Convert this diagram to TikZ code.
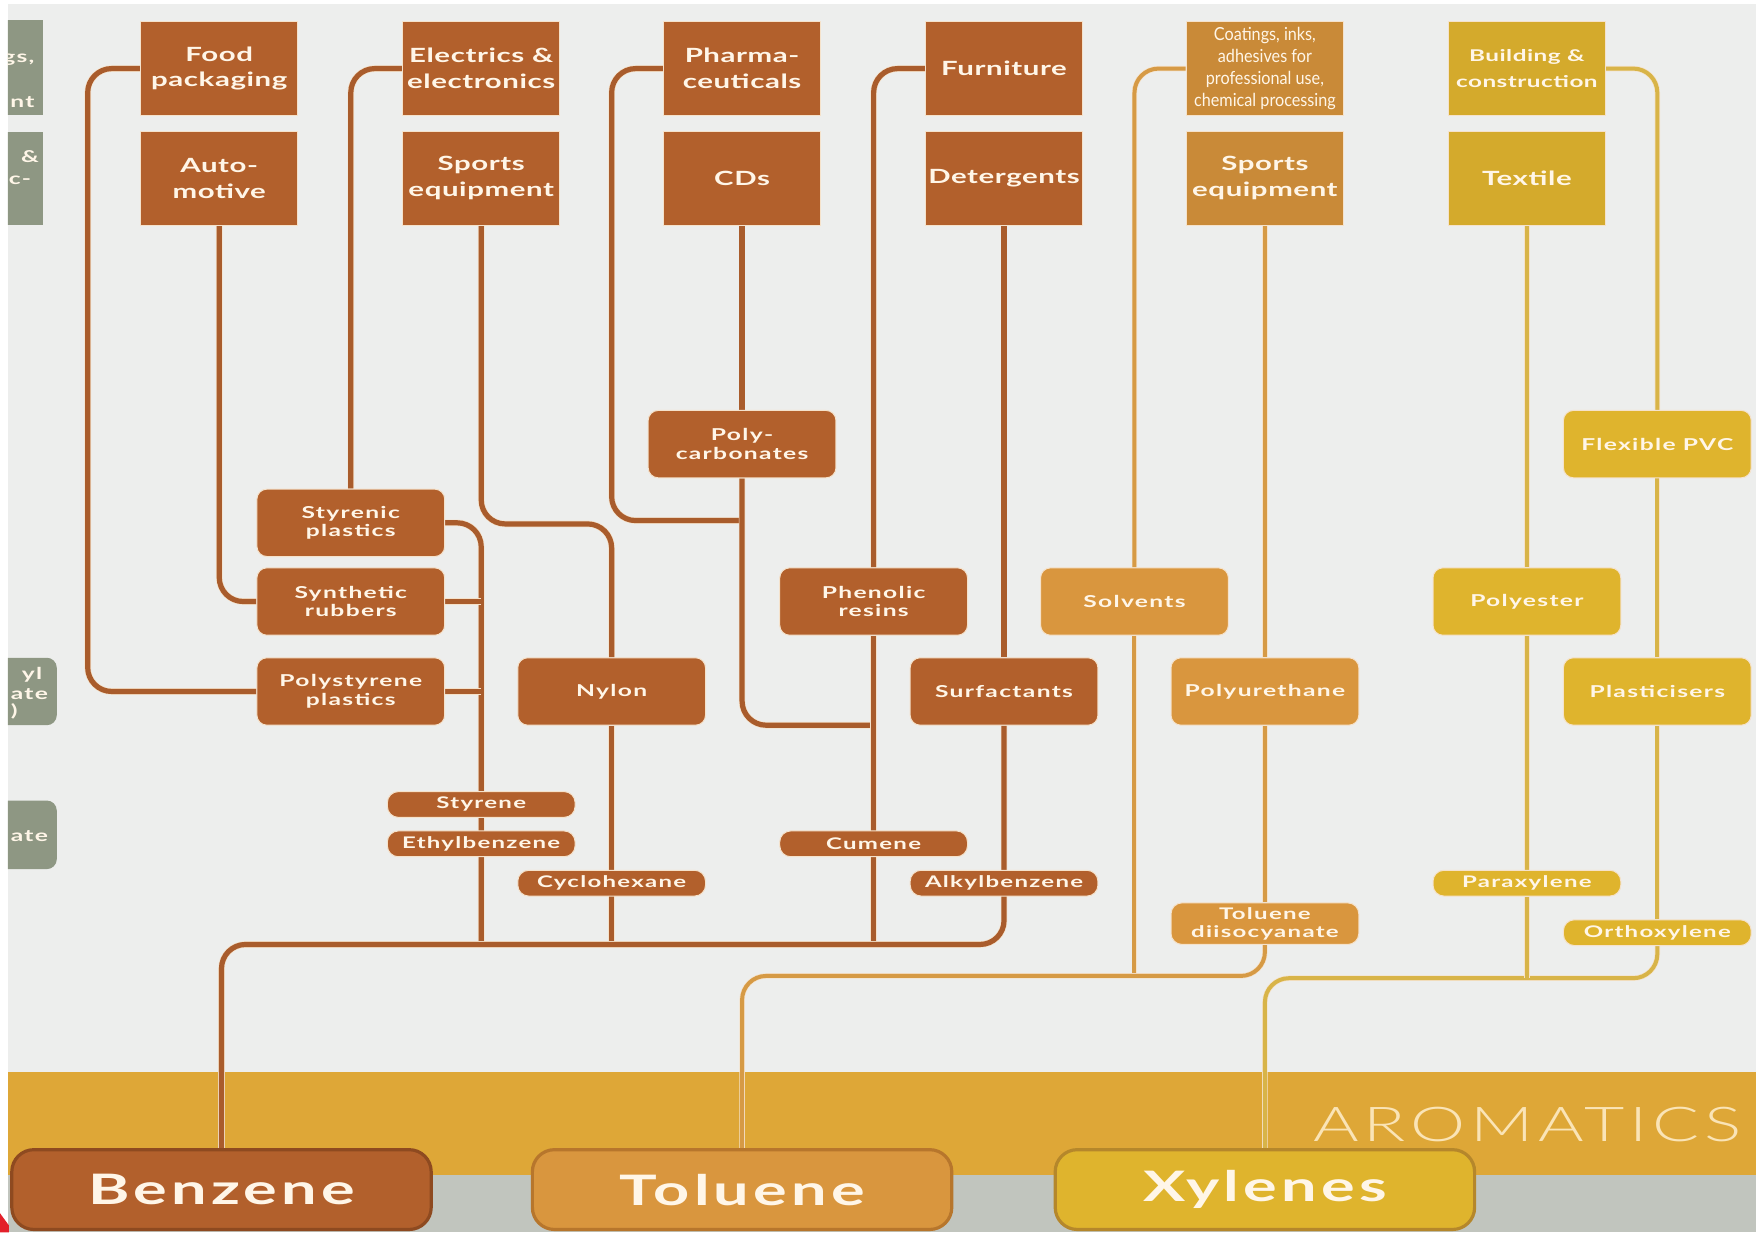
\documentclass[tikz,border=0pt]{standalone}
\usepackage{fontspec}
\setmainfont{Lato}
\newfontfamily\topfont[FakeStretch=1.5,LetterSpace=3]{Lato}
\newfontfamily\midfont[FakeStretch=1.5,LetterSpace=8]{Lato}
\newfontfamily\bigfont[FakeStretch=1.5,LetterSpace=10]{Lato}
\newfontfamily\aromfont[FakeStretch=1.45,LetterSpace=10]{Lato Light}
\newfontfamily\condfont[FakeStretch=0.9]{Lato}
\usetikzlibrary{backgrounds}
\definecolor{pagec}{HTML}{EDEEED}
\definecolor{bandc}{HTML}{DEA737}
\definecolor{stripc}{HTML}{C1C5BE}
\definecolor{bzc}{HTML}{B2602C}
\definecolor{bzline}{HTML}{A95C2C}
\definecolor{bzrim}{HTML}{8E4A20}
\definecolor{tltop}{HTML}{C98A38}
\definecolor{tlc}{HTML}{D9963E}
\definecolor{tlline}{HTML}{D69A45}
\definecolor{tlrim}{HTML}{B7762C}
\definecolor{xytop}{HTML}{D4AA2C}
\definecolor{xyc}{HTML}{DFB42D}
\definecolor{xyline}{HTML}{D8B448}
\definecolor{xyrim}{HTML}{B5872B}
\definecolor{greyc}{HTML}{8E9783}
\definecolor{rimc}{HTML}{F5E2CB}
\definecolor{txtc}{HTML}{FFF6E8}
\definecolor{aromc}{HTML}{FAE4B6}
\definecolor{markc}{HTML}{E3202A}
\tikzset{
  appbox/.style={fill=#1,draw=rimc,line width=0.5pt,minimum width=78.7pt,minimum height=47pt,inner sep=0pt,align=center,text=txtc,font=\topfont\bfseries\fontsize{9.8}{12.9}\selectfont},
  prodbox/.style={fill=#1,draw=rimc,line width=0.5pt,rounded corners=5pt,minimum width=93.9pt,minimum height=33.7pt,inner sep=0pt,align=center,text=txtc,font=\midfont\bfseries\fontsize{8.2}{9.3}\selectfont},
  interbox/.style={prodbox=#1,rounded corners=5.5pt,minimum height=12.9pt,font=\midfont\bfseries\fontsize{8}{8.8}\selectfont},
  srcbox/.style={fill=#1,rounded corners=11pt,line width=1.6pt,minimum width=209.7pt,minimum height=39.9pt,inner sep=0pt,text=txtc,font=\bigfont\bfseries\fontsize{21}{24}\selectfont},
  frag/.style={text=txtc,inner sep=0pt,anchor=east,font=\midfont\bfseries\fontsize{8.2}{9.3}\selectfont},
  feed/.style={draw=rimc,double=#1,double distance=2.6pt,line width=0.35pt,rounded corners=12pt},
  thinfeed/.style={feed=#1,double distance=2pt},
}
\begin{document}
\begin{tikzpicture}[x=0.5622pt,y=-0.5622pt]
  \useasboundingbox (0,0) rectangle (1568,1096);
  \node[appbox=bzc] (food) at (195,61) {Food\\packaging};
  \node[appbox=bzc] (auto) at (195,158.5) {Auto-\\motive};
  \node[appbox=bzc] (elec) at (428,61) {Electrics \&\\electronics};
  \node[appbox=bzc] (sport) at (428,158.5) {Sports\\equipment};
  \node[appbox=bzc] (pharma) at (660,61) {Pharma-\\ceuticals};
  \node[appbox=bzc] (cds) at (660,158.5) {CDs};
  \node[appbox=bzc] (furn) at (893,61) {Furniture};
  \node[appbox=bzc] (deter) at (893,158.5) {Detergents};
  \node[appbox=tltop,font=\condfont\fontsize{9}{11.1}\selectfont] (coat) at (1125,61) {Coatings, inks,\\adhesives for\\professional use,\\chemical processing};
  \node[appbox=tltop] (sportb) at (1125,158.5) {Sports\\equipment};
  \node[appbox=xytop,font=\topfont\bfseries\fontsize{8.1}{12.9}\selectfont] (build) at (1358,61) {Building \&\\construction};
  \node[appbox=xytop] (textile) at (1358,158.5) {Textile};
  \node[prodbox=bzc] (pcarb) at (660,395) {Poly-\\carbonates};
  \node[prodbox=xyc] (fpvc) at (1474,395) {Flexible PVC};
  \node[prodbox=bzc] (styr) at (312,465) {Styrenic\\plastics};
  \node[prodbox=bzc] (synr) at (312,535) {Synthetic\\rubbers};
  \node[prodbox=bzc] (phen) at (777,535) {Phenolic\\resins};
  \node[prodbox=tlc] (solv) at (1009,535) {Solvents};
  \node[prodbox=xyc] (polye) at (1358,535) {Polyester};
  \node[prodbox=bzc] (polys) at (312,615) {Polystyrene\\plastics};
  \node[prodbox=bzc] (nylon) at (544,615) {Nylon};
  \node[prodbox=bzc] (surf) at (893,615) {Surfactants};
  \node[prodbox=tlc] (pu) at (1125,615) {Polyurethane};
  \node[prodbox=xyc] (plast) at (1474,615) {Plasticisers};
  \node[interbox=bzc] (styrene) at (428,715.5) {Styrene};
  \node[interbox=bzc] (ethyl) at (428,750.5) {Ethylbenzene};
  \node[interbox=bzc] (cyclo) at (544,785.5) {Cyclohexane};
  \node[interbox=bzc] (cumene) at (777,750.5) {Cumene};
  \node[interbox=bzc] (alkyl) at (893,785.5) {Alkylbenzene};
  \node[interbox=tlc,minimum height=20.8pt] (tdi) at (1125,821.5) {Toluene\\diisocyanate};
  \node[interbox=xyc] (para) at (1358,785.5) {Paraxylene};
  \node[interbox=xyc] (ortho) at (1474,829.5) {Orthoxylene};
  \node[srcbox=bzc,draw=bzrim] (benzene) at (197,1058) {Benzene};
  \node[srcbox=tlc,draw=tlrim] (toluene) at (660,1058) {Toluene};
  \node[srcbox=xyc,draw=xyrim] (xylenes) at (1125,1058) {Xylenes};
  \node[text=aromc,inner sep=0pt,anchor=east,font=\aromfont\fontsize{24}{27}\selectfont] (arom) at (1549,1000) {AROMATICS};
  \begin{scope}
    \clip (7,0) rectangle (70,1096);
    \fill[greyc] (-20,18) rectangle (38.5,102);
    \fill[greyc] (-20,117) rectangle (38.5,200);
    \fill[greyc,rounded corners=5pt] (-20,585) rectangle (50.5,645);
    \fill[greyc,rounded corners=5pt] (-20,712) rectangle (50.5,773);
    \node[frag] (fa) at (31,53) {gs,};
    \node[frag] (fb) at (31,91) {nt};
    \node[frag] (fc) at (35,139) {\&};
    \node[frag] (fd) at (28,160) {c-};
    \node[frag] (fe) at (38,600) {yl};
    \node[frag] (ff) at (43,617) {ate};
    \node[frag] (fg) at (16,633) {)};
    \node[frag] (fh) at (43,744) {ate};
  \end{scope}
  \fill[markc] (0,1079) -- (8,1090) -- (8,1096) -- (0,1096) -- cycle;
  \begin{scope}[on background layer]
    \fill[pagec] (7,4) rectangle (1562,1096);
    \fill[bandc] (7,953) rectangle (1562,1045);
    \fill[stripc] (7,1045) rectangle (1562,1096);
    \coordinate (cFood) at (78,0);
    \coordinate (yTurnA) at (0,463);
    \coordinate (yTurnB) at (0,466);
    \coordinate (yTurnC) at (0,645);
    \coordinate (jB) at (428,840);
    \coordinate (jT) at (0,868);
    \coordinate (jX) at (0,870);
    \draw[feed=bzline] (food.west) -| (cFood |- polys.west) -- (polys.west);
    \draw[feed=bzline] (auto.south) |- (synr.west);
    \draw[feed=bzline] (elec.west) -| (styr.north);
    \draw[feed=bzline] (styr.east) -| (jB);
    \draw[feed=bzline] (synr.east) -- (synr.east -| jB);
    \draw[feed=bzline] (polys.east) -- (polys.east -| jB);
    \draw[feed=bzline] (sport.south) |- (nylon.north |- yTurnB) -- (nylon.north);
    \draw[feed=bzline] (nylon.south) -- (nylon.south |- jB);
    \draw[feed=bzline] (pharma.west) -| (nylon.north |- yTurnA) -- (pcarb.south |- yTurnA);
    \draw[feed=bzline] (cds.south) -- (pcarb.north);
    \draw[feed=bzline] (pcarb.south) |- (phen.south |- yTurnC);
    \draw[feed=bzline] (furn.west) -| (phen.north);
    \draw[feed=bzline] (phen.south) -- (phen.south |- jB);
    \draw[feed=bzline] (deter.south) -- (surf.north);
    \draw[feed=bzline] (surf.south) |- (benzene.north |- jB) -- (benzene.north);
    \draw[thinfeed=tlline] (coat.west) -| (solv.north);
    \draw[thinfeed=tlline] (solv.south) -- (solv.south |- jT);
    \draw[thinfeed=tlline] (sportb.south) -- (pu.north);
    \draw[thinfeed=tlline] (pu.south) -- (tdi.north);
    \draw[thinfeed=tlline] (tdi.south) |- (toluene.north |- jT) -- (toluene.north);
    \draw[thinfeed=xyline] (build.east) -| (fpvc.north);
    \draw[thinfeed=xyline] (fpvc.south) -- (plast.north);
    \draw[thinfeed=xyline] (plast.south) -- (ortho.north);
    \draw[thinfeed=xyline] (ortho.south) |- (xylenes.north |- jX) -- (xylenes.north);
    \draw[thinfeed=xyline] (textile.south) -- (polye.north);
    \draw[thinfeed=xyline] (polye.south) -- (para.north);
    \draw[thinfeed=xyline] (para.south) -- (para.south |- jX);
  \end{scope}
\end{tikzpicture}
\end{document}
